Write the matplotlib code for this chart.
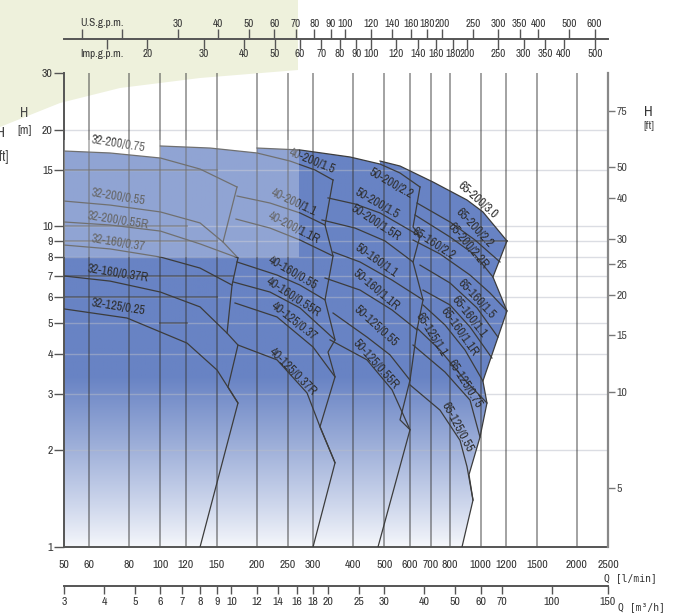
import numpy as np
import matplotlib.pyplot as plt
from matplotlib.patches import Polygon, Rectangle

plt.rcParams['font.family'] = ['Liberation Sans Narrow', 'Archivo Narrow', 'DejaVu Sans']

# ---------------- axis scales ----------------
q_ticks = [50, 60, 80, 100, 120, 150, 200, 250, 300, 400, 500, 600, 700, 800, 1000, 1200, 1500, 2000, 2500]
h_ticks = [1, 2, 3, 4, 5, 6, 7, 8, 9, 10, 15, 20, 30]
ft_ticks = [5, 10, 15, 20, 25, 30, 40, 50, 75]
m3h_ticks = [3, 4, 5, 6, 7, 8, 9, 10, 12, 14, 16, 18, 20, 25, 30, 40, 50, 60, 70, 100, 150]
us_ticks = [15, 20, 30, 40, 50, 60, 70, 80, 90, 100, 120, 140, 160, 180, 200, 250, 300, 350, 400, 500, 600]
imp_ticks = [15, 20, 30, 40, 50, 60, 70, 80, 90, 100, 120, 140, 160, 180, 200, 250, 300, 350, 400, 500]

# ---------------- pump curves (Q l/min, H m) ----------------
q_32_200_075 = [50, 69.6, 100, 133, 173.5]
h_32_200_075 = [17.14, 16.90, 16.30, 15.06, 13.24]
q_32_200_055 = [50, 69.6, 100, 133, 156.9]
h_32_200_055 = [11.97, 11.63, 11.07, 10.23, 8.92]
q_32_200_055r = [50, 69.6, 100, 133, 174.7]
h_32_200_055r = [10.30, 10.08, 9.65, 8.80, 7.96]
q_32_160_037 = [50, 69.6, 100, 133, 167.4]
h_32_160_037 = [8.73, 8.49, 8.01, 7.40, 6.55]
q_32_160_037r = [50, 69.6, 100, 133, 161.5]
h_32_160_037r = [6.99, 6.74, 6.23, 5.60, 4.64]
q_32_125_025 = [50, 78.7, 121.1, 150.3, 174.7]
h_32_125_025 = [5.52, 5.17, 4.32, 3.56, 2.81]
q_edge_32 = [173.5, 156.9, 174.7, 167.4, 161.5, 174.7, 162.6, 174.7, 133.0]
h_edge_32 = [13.24, 8.92, 7.96, 6.55, 4.64, 4.26, 3.15, 2.81, 1.0]

q_40_200_15 = [100, 142.9, 200.3, 254, 304, 346.1]
h_40_200_15 = [17.77, 17.51, 16.90, 15.95, 14.96, 13.92]
q_40_200_11 = [173.5, 220, 272.9, 326.7]
h_40_200_11 = [12.41, 11.80, 10.99, 10.08]
q_40_200_11r = [172.2, 220, 272.9, 346.1]
h_40_200_11r = [10.52, 9.86, 9.05, 8.07]
q_40_160_055 = [173.5, 231.3, 272.9, 326.7]
h_40_160_055 = [7.73, 7.04, 6.55, 5.89]
q_40_160_055r = [168.6, 220, 272.9, 351.1]
h_40_160_055r = [6.70, 6.23, 5.56, 4.42]
q_40_125_037 = [171, 231.3, 299.7, 351.1]
h_40_125_037 = [5.76, 5.21, 4.20, 3.39]
q_40_125_037r = [174.7, 231.3, 287.1, 315.1, 351.1]
h_40_125_037r = [4.26, 3.83, 3.02, 2.37, 1.83]
q_edge_40 = [346.1, 326.7, 346.1, 326.7, 351.1, 333.8, 351.1, 315.1, 351.1, 299.7]
h_edge_40 = [13.92, 10.08, 8.07, 5.89, 4.42, 4.05, 3.39, 2.37, 1.83, 1.0]

q_50_200_22 = [200.3, 272.9, 391.1, 485.2, 560.2, 646.9]
h_50_200_22 = [17.51, 17.27, 16.42, 15.61, 14.64, 13.24]
q_50_200_15 = [333.8, 405.5, 485.2, 646.9]
h_50_200_15 = [12.24, 11.72, 10.99, 9.31]
q_50_200_15r = [319.7, 405.5, 502.9, 615.2]
h_50_200_15r = [10.45, 9.86, 8.99, 7.73]
q_50_160_11 = [346.1, 420.2, 528.9, 661]
h_50_160_11 = [8.31, 7.73, 6.79, 5.89]
q_50_160_11r = [326.7, 420.2, 528.9, 633.1]
h_50_160_11r = [6.89, 6.32, 5.48, 4.75]
q_50_125_055 = [346.1, 441.8, 521.3, 602]
h_50_125_055 = [5.36, 4.51, 3.97, 3.31]
q_50_125_055r = [338.7, 441.8, 528.9, 602]
h_50_125_055r = [4.42, 3.83, 3.09, 2.32]
q_edge_50 = [646.9, 615.2, 646.9, 615.2, 661, 633.1, 602, 560.2, 602, 478.2]
h_edge_50 = [13.24, 9.94, 9.31, 7.73, 5.89, 4.75, 3.31, 2.49, 2.32, 1.0]

q_65_200_30 = [485.2, 560.2, 710.4, 907, 1017, 1209]
h_65_200_30 = [15.95, 15.39, 13.72, 12.06, 11.07, 8.99]
q_65_200_22 = [633.1, 802.6, 960.7, 1149.9]
h_65_200_22 = [11.80, 10.30, 9.05, 7.73]
q_65_200_22r = [624, 802.6, 960.7, 1093]
h_65_200_22r = [10.83, 9.25, 8.13, 6.94]
q_65_160_22 = [615.2, 746.9, 926.7, 1070, 1209]
h_65_160_22 = [9.05, 8.19, 7.04, 6.19, 5.44]
q_65_160_15 = [646.9, 802.6, 974.6, 1133]
h_65_160_15 = [7.56, 6.65, 5.56, 4.51]
q_65_160_11 = [661, 802.6, 926.7, 1085]
h_65_160_11 = [6.32, 5.68, 4.85, 3.88]
q_65_160_11r = [661, 774, 894, 1017]
h_65_160_11r = [5.68, 4.92, 4.11, 3.29]
q_65_125_11 = [633.1, 746.9, 894, 1047]
h_65_125_11 = [4.81, 4.11, 3.31, 2.81]
q_65_125_075 = [615.2, 774, 926.7, 995.8]
h_65_125_075 = [4.26, 3.51, 2.87, 2.20]
q_65_125_055 = [602, 746.9, 862.4, 907, 947]
h_65_125_055 = [3.20, 2.67, 2.15, 1.78, 1.40]
q_edge_65 = [1209, 1093, 1209, 1017, 1047, 995.8, 920, 947, 874.9]
h_edge_65 = [8.99, 6.94, 5.44, 3.29, 2.81, 2.20, 1.68, 1.40, 1.0]

# darker pieces of grid lines seen through the chart
dark_h = [15, 10, 9, 7, 6, 5, 9]
dark_q0 = [50, 50, 50, 50, 50, 100, 820]
dark_q1 = [150.3, 121.1, 150.3, 168.6, 150.3, 121.1, 1209]

curves = [
    (q_32_200_075, h_32_200_075), (q_32_200_055, h_32_200_055), (q_32_200_055r, h_32_200_055r),
    (q_32_160_037, h_32_160_037), (q_32_160_037r, h_32_160_037r), (q_32_125_025, h_32_125_025),
    (q_edge_32, h_edge_32),
    (q_40_200_15, h_40_200_15), (q_40_200_11, h_40_200_11), (q_40_200_11r, h_40_200_11r),
    (q_40_160_055, h_40_160_055), (q_40_160_055r, h_40_160_055r), (q_40_125_037, h_40_125_037),
    (q_40_125_037r, h_40_125_037r), (q_edge_40, h_edge_40),
    (q_50_200_22, h_50_200_22), (q_50_200_15, h_50_200_15), (q_50_200_15r, h_50_200_15r),
    (q_50_160_11, h_50_160_11), (q_50_160_11r, h_50_160_11r), (q_50_125_055, h_50_125_055),
    (q_50_125_055r, h_50_125_055r), (q_edge_50, h_edge_50),
    (q_65_200_30, h_65_200_30), (q_65_200_22, h_65_200_22), (q_65_200_22r, h_65_200_22r),
    (q_65_160_22, h_65_160_22), (q_65_160_15, h_65_160_15), (q_65_160_11, h_65_160_11),
    (q_65_160_11r, h_65_160_11r), (q_65_125_11, h_65_125_11), (q_65_125_075, h_65_125_075),
    (q_65_125_055, h_65_125_055), (q_edge_65, h_edge_65),
]
families = [
    (q_32_200_075, h_32_200_075, q_edge_32, h_edge_32),
    (q_40_200_15, h_40_200_15, q_edge_40, h_edge_40),
    (q_50_200_22, h_50_200_22, q_edge_50, h_edge_50),
    (q_65_200_30, h_65_200_30, q_edge_65, h_edge_65),
]

# label placement: name, Q, H, angle
curve_labels = [
    ('32-200/0.75', 73.7, 18.1, -9), ('32-200/0.55', 73.7, 12.32, -9),
    ('32-200/0.55R', 73.7, 10.45, -9), ('32-160/0.37', 73.7, 8.86, -9),
    ('32-160/0.37R', 73.7, 7.14, -9), ('32-125/0.25', 73.7, 5.60, -9),
    ('40-200/1.5', 297.6, 15.95, -22), ('40-200/1.1', 261.4, 11.89, -25),
    ('40-200/1.1R', 261.4, 9.86, -27), ('40-160/0.55', 259.5, 7.14, -30),
    ('40-160/0.55R', 259.5, 6.01, -33), ('40-125/0.37', 261.4, 5.06, -38),
    ('40-125/0.37R', 259.5, 3.51, -45),
    ('50-200/2.2', 525, 13.63, -30), ('50-200/1.5', 474.8, 11.80, -30),
    ('50-200/1.5R', 471.4, 10.23, -33), ('50-160/1.1', 471.4, 7.79, -35),
    ('50-160/1.1R', 471.4, 6.32, -40), ('50-125/0.55', 471.4, 4.88, -42),
    ('50-125/0.55R', 471.4, 3.72, -48),
    ('65-200/3.0', 981.6, 12.06, -42), ('65-200/2.2', 953.8, 9.86, -47),
    ('65-200/2.2R', 913.5, 8.67, -50), ('65-160/2.2', 710.4, 8.80, -33),
    ('65-160/1.5', 974.6, 5.93, -47), ('65-160/1.1', 920, 5.21, -52),
    ('65-160/1.1R', 856.3, 4.68, -55), ('65-125/1.1', 700.2, 4.58, -58),
    ('65-125/0.75', 894, 3.22, -58), ('65-125/0.55', 844, 2.37, -62),
]

W, H = 673, 615
fig = plt.figure(figsize=(W / 100, H / 100), dpi=100)


def fx(px):
    return px / W


def fy(py):
    return 1 - py / H


# pale green corner behind the chart
green = Polygon([(fx(0), fy(0)), (fx(298), fy(0)), (fx(298), fy(70)), (fx(200), fy(78)),
                 (fx(120), fy(88)), (fx(60), fy(103)), (fx(0), fy(127))],
                closed=True, transform=fig.transFigure, fc='#eef1dc', ec='none', zorder=-5)
fig.add_artist(green)

left, right, top, bot = 64, 608, 73, 547
ax = fig.add_axes([fx(left), fy(bot), (right - left) / W, (bot - top) / H])
ax.patch.set_alpha(0)
ax.set_xscale('log')
ax.set_yscale('log')
ax.set_xlim(50, 2500)
ax.set_ylim(1, 30)
ax.set_autoscale_on(False)

# gradient fill of the selection field
n = 400
f = np.linspace(0, 1, n)
blue = np.array([104, 131, 196]) / 255.0
w = 0.06 + 0.94 * np.clip(f / 0.36, 0, 1) ** 0.9
rgb = 1 - (1 - blue)[None, :] * w[:, None]
img = np.repeat(rgb[:, None, :], 2, axis=1)
for qt, ht, qe, he in families:
    xs = list(qt) + list(qe[1:]) + [qt[0]]
    ys = list(ht) + list(he[1:]) + [1]
    poly = Polygon(np.column_stack([xs, ys]), closed=True, fc='none', ec='none')
    ax.add_patch(poly)
    im = ax.imshow(img, extent=[0, 1, 0, 1], transform=ax.transAxes, origin='lower',
                   aspect='auto', interpolation='bilinear', zorder=1)
    im.set_clip_path(poly)

# grid
for h in h_ticks[1:-1]:
    ax.axhline(h, color='#b8bcc8', lw=1.0, alpha=0.5, zorder=2)
for q in q_ticks[1:-1]:
    ax.axvline(q, color='#3a3a3a', lw=1.1, alpha=0.6, zorder=2)
for h, q0, q1 in zip(dark_h, dark_q0, dark_q1):
    ax.plot([q0, q1], [h, h], color='#3a3a3a', lw=1.3, alpha=0.55, zorder=2)

for q, h in curves:
    ax.plot(q, h, color='#3c3c3c', lw=0.9, zorder=3, solid_joinstyle='round')

for name, q, h, rot in curve_labels:
    ax.text(q, h, name, rotation=rot, ha='center', va='center', fontsize=9,
            color='#2e2e2e', zorder=4, rotation_mode='anchor')

# pale overlay on the upper-left block
ax.add_patch(Rectangle((50, 8), 271 - 50, 18.5 - 8, fc='white', ec='none', alpha=0.27, zorder=5))

# main axes styling
ax.set_xticks(q_ticks, labels=[str(v) for v in q_ticks])
ax.set_yticks(h_ticks, labels=[str(v) for v in h_ticks])
ax.minorticks_off()
ax.tick_params(axis='x', length=0, pad=9, labelsize=8.5, labelcolor='#333')
ax.tick_params(axis='y', direction='out', length=7, width=1, color='#555', pad=1,
               labelsize=8.5, labelcolor='#333')
for s in ['top', 'right']:
    ax.spines[s].set_visible(False)
for s in ['left', 'bottom']:
    ax.spines[s].set_color('#555')
    ax.spines[s].set_linewidth(1.4)

ax2 = ax.twinx()
ax2.set_yscale('log')
ax2.set_ylim(1 * 3.2808, 30 * 3.2808)
ax2.set_yticks(ft_ticks, labels=[str(v) for v in ft_ticks])
ax2.minorticks_off()
ax2.tick_params(axis='y', direction='out', length=5, width=1, color='#777', pad=1,
                labelsize=8.5, labelcolor='#444')
for s in ['top', 'left', 'bottom']:
    ax2.spines[s].set_visible(False)
ax2.spines['right'].set_color('#888')
ax2.spines['right'].set_linewidth(1.6)

# m3/h scale
ax3 = fig.add_axes([fx(left), fy(586), (right - left) / W, 1e-4])
ax3.set_xscale('log')
ax3.set_xlim(3, 150)
ax3.set_xticks(m3h_ticks, labels=[str(v) for v in m3h_ticks])
ax3.minorticks_off()
ax3.set_yticks([])
ax3.patch.set_alpha(0)
for s in ['top', 'left', 'right']:
    ax3.spines[s].set_visible(False)
ax3.spines['bottom'].set_color('#555')
ax3.spines['bottom'].set_linewidth(1.4)
ax3.tick_params(axis='x', direction='out', length=6, width=1, color='#555', pad=2,
                labelsize=8.5, labelcolor='#333')

# gallons scales
axu = fig.add_axes([fx(left), fy(39), (right - left) / W, 1e-4])
axu.set_xscale('log')
axu.set_xlim(50 / 3.7854, 2500 / 3.7854)
axu.xaxis.tick_top()
axu.set_xticks(us_ticks, labels=['' if v < 30 else str(v) for v in us_ticks])
axu.minorticks_off()
axu.set_yticks([])
axu.patch.set_alpha(0)
for s in ['bottom', 'left', 'right']:
    axu.spines[s].set_visible(False)
axu.spines['top'].set_color('#555')
axu.spines['top'].set_linewidth(1.4)
axu.tick_params(axis='x', direction='out', length=7, width=1, color='#555', pad=0,
                labelsize=8, labelcolor='#333')

axi = fig.add_axes([fx(left), fy(39), (right - left) / W, 1e-4])
axi.set_xscale('log')
axi.set_xlim(50 / 4.5461, 2500 / 4.5461)
axi.set_xticks(imp_ticks, labels=['' if v < 20 else str(v) for v in imp_ticks])
axi.minorticks_off()
axi.set_yticks([])
axi.patch.set_alpha(0)
for s in ['top', 'left', 'right', 'bottom']:
    axi.spines[s].set_visible(False)
axi.tick_params(axis='x', direction='out', length=7, width=1, color='#555', pad=0,
                labelsize=8, labelcolor='#333')

# titles / units
fig.text(fx(80), fy(23), 'U.S.g.p.m.', ha='left', va='center', fontsize=8, color='#333')
fig.text(fx(80), fy(54), 'Imp.g.p.m.', ha='left', va='center', fontsize=8, color='#333')
fig.text(fx(24), fy(113), 'H', ha='center', va='center', fontsize=10, color='#444')
fig.text(fx(25), fy(131), '[m]', ha='center', va='center', fontsize=9, color='#444')
fig.text(fx(5), fy(133), 'H', ha='right', va='center', fontsize=11, color='#444', weight='bold')
fig.text(fx(9), fy(157), '[ft]', ha='right', va='center', fontsize=10, color='#444')
fig.text(fx(648), fy(112), 'H', ha='center', va='center', fontsize=10.5, color='#333', weight='bold')
fig.text(fx(649), fy(126), '[ft]', ha='center', va='center', fontsize=8.5, color='#444')
fig.text(fx(604), fy(578), 'Q [l/min]', ha='left', va='center', fontsize=7,
         color='#333', family='DejaVu Sans Mono')
fig.text(fx(618), fy(607), 'Q [m³/h]', ha='left', va='center', fontsize=7,
         color='#333', family='DejaVu Sans Mono')

fig.savefig('out.png', dpi=100)
